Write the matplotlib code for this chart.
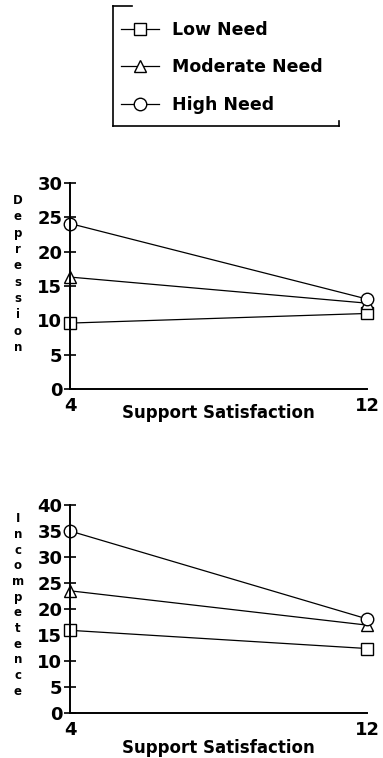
import matplotlib.pyplot as plt
from matplotlib.lines import Line2D

plt.rcParams['font.family'] = 'DejaVu Sans'
plt.rcParams['font.weight'] = 'bold'

support = [4, 12]
groups = ['Low Need', 'Moderate Need', 'High Need']
markers = ['s', '^', 'o']

depression = {
    'Low Need': [9.6, 11.0],
    'Moderate Need': [16.3, 12.5],
    'High Need': [24.1, 13.1],
}
incompetence = {
    'Low Need': [15.9, 12.4],
    'Moderate Need': [23.5, 16.9],
    'High Need': [35.0, 18.1],
}

fig = plt.figure(figsize=(3.83, 7.58), dpi=100)


def panel(rect, data, ymax, ylabel, label_y, spacing, xlab_dy):
    ax = fig.add_axes(rect)
    for g, m in zip(groups, markers):
        ax.plot(support, data[g], color='black', lw=0.9, marker=m, ms=9,
                mfc='white', mec='black', mew=1.0, clip_on=False, label=g)
    ax.set_xlim(4, 12)
    ax.set_ylim(0, ymax)
    ax.set_yticks(range(0, ymax + 1, 5))
    ax.set_xticks(support)
    ax.tick_params(axis='y', direction='inout', length=9, width=1.2,
                   labelsize=13, pad=1)
    ax.tick_params(axis='x', length=0, labelsize=13, pad=6)
    for lab in ax.get_xticklabels() + ax.get_yticklabels():
        lab.set_fontweight('bold')
    for s in ['top', 'right']:
        ax.spines[s].set_visible(False)
    for s in ['left', 'bottom']:
        ax.spines[s].set_linewidth(1.4)
    ax.set_xlabel('Support Satisfaction', fontsize=12, fontweight='bold',
                  labelpad=xlab_dy)
    fig.text(18 / 383, label_y, '\n'.join(ylabel), ha='center', va='center',
             fontsize=8.5, fontweight='bold', linespacing=spacing)
    return ax


ax1 = panel([70 / 383, 1 - 389 / 758, 297 / 383, 206 / 758], depression, 30,
            'Depression', 1 - 274 / 758, 1.33, -8)
ax2 = panel([70 / 383, 1 - 713 / 758, 297 / 383, 208 / 758], incompetence, 40,
            'Incompetence', 1 - 605 / 758, 1.27, 0)

# legend with an open bracket-style frame
handles = [Line2D([], [], color='black', lw=0.9, marker=m, ms=9, mfc='white',
                  mec='black', mew=1.0) for m in markers]
fig.legend(handles, groups, loc='upper left',
           bbox_to_anchor=(105 / 383, 1 - 5 / 758), frameon=False,
           prop={'size': 12.5, 'weight': 'bold'}, handlelength=2.2,
           labelspacing=1.13, handletextpad=0.75)

W, H = 383, 758
frame = [
    ([113, 113], [6, 126]),
    ([113, 132], [6, 6]),
    ([113, 339], [126, 126]),
    ([339, 339], [126, 121]),
]
for xs, ys in frame:
    fig.add_artist(Line2D([x / W for x in xs], [1 - y / H for y in ys],
                          color='black', lw=1.2))

fig.savefig('out.png', dpi=100)
